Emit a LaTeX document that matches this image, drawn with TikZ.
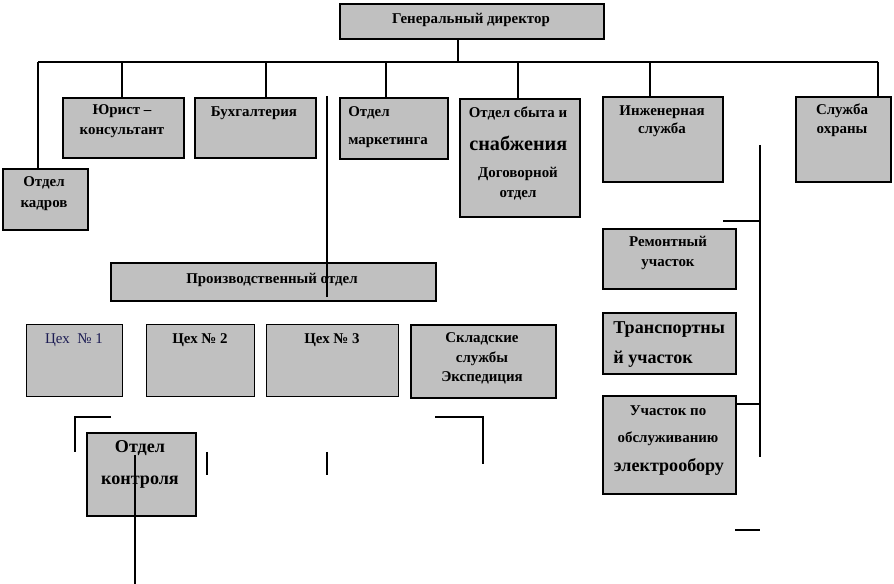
\documentclass[tikz,border=0pt]{standalone}
\usepackage{fontspec}
\setmainfont{Liberation Serif}
\definecolor{boxgray}{RGB}{192,192,192}
\definecolor{cehblue}{RGB}{28,28,84}
\tikzset{
  box/.style 2 args={draw,line width=1.1pt,fill=boxgray,inner sep=0pt,anchor=north west,
    minimum width=#1*0.02cm,minimum height=#2*0.02cm},
  cehbox/.style 2 args={box={#1}{#2},line width=0.6pt},
  txt/.style={font=\fontsize{8.5}{#1}\selectfont\bfseries,align=center,inner sep=0pt},
  txt/.default=11.3,
  bigtxt/.style={font=\fontsize{10.3}{#1}\selectfont\bfseries,align=center,inner sep=0pt},
  bigtxt/.default=14,
  link/.style={line width=0.6pt}
}
\begin{document}
\begin{tikzpicture}[x=0.02cm,y=-0.02cm]
\useasboundingbox (0,0) rectangle (894,584);
% boxes
\node[box={264}{35}] (dir) at (339,3) {};
\node[box={85}{61}] (kadr) at (2,168) {};
\node[box={121}{60}] (jur) at (62,97) {};
\node[box={121}{60}] (buh) at (194,97) {};
\node[box={108}{61}] (mark) at (339,97) {};
\node[box={120}{118}] (sbyt) at (459,98) {};
\node[box={120}{85}] (ing) at (602,96) {};
\node[box={95}{85}] (ohr) at (795,96) {};
\node[box={325}{38}] (proizv) at (110,262) {};
\node[cehbox={96}{72}] (ceh1) at (26,324) {};
\node[cehbox={108}{72}] (ceh2) at (146,324) {};
\node[cehbox={132}{72}] (ceh3) at (266,324) {};
\node[box={145}{73}] (sklad) at (410,324) {};
\node[box={133}{60}] (rem) at (602,228) {};
\node[box={133}{61}] (trans) at (602,312) {};
\node[box={133}{98}] (uch) at (602,395) {};
\node[box={109}{83}] (kontr) at (86,432) {};
% texts
\node[txt] (dirT) at (471,20) {Генеральный директор};
\node[txt=11.9] (kadrT) at (44,193.5) {Отдел\\кадров};
\node[txt] (jurT) at (122,121) {Юрист –\\консультант};
\node[txt] (buhT) at (254,113) {Бухгалтерия};
\node[txt=15.9,anchor=west,align=left] (markT) at (348,127) {Отдел\\маркетинга};
\node[txt] (sbytT) at (518,113) {Отдел сбыта и};
\node[bigtxt,font=\fontsize{11.5}{14}\selectfont\bfseries,anchor=west] (snabT) at (469,143) {снабжения};
\node[txt] (dogT) at (518,184) {Договорной\\отдел};
\node[txt=10.4] (ingT) at (662,121) {Инженерная\\служба};
\node[txt=10.8] (ohrT) at (842,120.5) {Служба\\охраны};
\node[txt] (proizvT) at (272,280) {Производственный отдел};
\node[font=\fontsize{8.5}{10}\selectfont,text=cehblue,inner sep=0pt] (ceh1T) at (74,340) {Цех \ № 1};
\node[txt] (ceh2T) at (200,340) {Цех № 2};
\node[txt] (ceh3T) at (332,340) {Цех № 3};
\node[txt=11] (skladT) at (482,358.5) {Складские\\службы\\Экспедиция};
\node[txt] (remT) at (668,253) {Ремонтный\\участок};
\node[bigtxt=17.6,anchor=west,align=left] (transT) at (613,344.5) {Транспортны\\й участок};
\node[txt=15.3] (uchT) at (668,425.5) {Участок по\\обслуживанию};
\node[bigtxt] (elT) at (669,467) {электрообору};
\node[bigtxt=18.7] (kontrT) at (140,464.5) {Отдел\\контроля};
% bus
\coordinate (busL) at (38,62);
\coordinate (busR) at (878,62);
\draw[line width=1pt] (busL) -- (busR);
\coordinate (d0) at (458,62);
\coordinate (j0) at (122,62);
\coordinate (b0) at (266,62);
\coordinate (m0) at (386,62);
\coordinate (s0) at (518,62);
\coordinate (i0) at (650,62);
\draw[link] (d0) -- (d0 |- dir.south);
\draw[link] (busL) -- (busL |- kadr.north);
\draw[link] (j0) -- (j0 |- jur.north);
\draw[link] (b0) -- (b0 |- buh.north);
\draw[link] (m0) -- (m0 |- mark.north);
\draw[link] (s0) -- (s0 |- sbyt.north);
\draw[link] (i0) -- (i0 |- ing.north);
\draw[link] (busR) -- (busR |- ohr.north);
% loose lines
\coordinate (p0) at (327,96);
\coordinate (p1) at (327,297);
\draw[link] (p0) -- (p1);
\coordinate (e0) at (760,145);
\coordinate (e1) at (760,457);
\coordinate (e2) at (723,221);
\coordinate (e3) at (735,404);
\coordinate (e4) at (735,530);
\draw[link] (e0) -- (e1);
\draw[link] (e2) -- (e2 -| e0);
\draw[link] (e3) -- (e3 -| e0);
\draw[link] (e4) -- (e4 -| e0);
\coordinate (c0) at (111,417);
\coordinate (c1) at (75,417);
\coordinate (c2) at (75,452);
\draw[link] (c0) -- (c1) -- (c2);
\coordinate (k0) at (135,455);
\coordinate (k1) at (135,584);
\draw[link] (k0) -- (k1);
\coordinate (t0) at (207,452);
\coordinate (t1) at (207,475);
\coordinate (t2) at (327,452);
\coordinate (t3) at (327,475);
\draw[link] (t0) -- (t1);
\draw[link] (t2) -- (t3);
\coordinate (x0) at (435,417);
\coordinate (x1) at (483,417);
\coordinate (x2) at (483,464);
\draw[link] (x0) -- (x1) -- (x2);
\end{tikzpicture}
\end{document}
